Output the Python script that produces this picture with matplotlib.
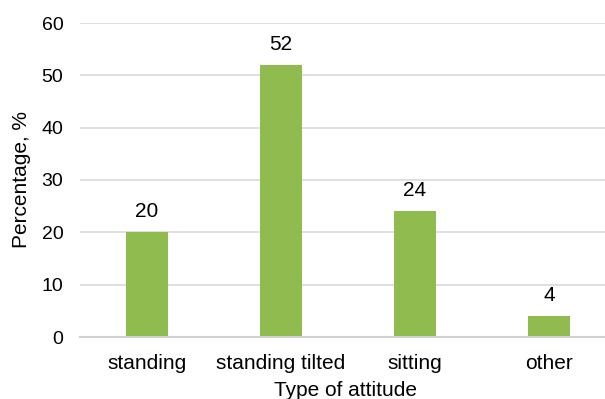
import matplotlib.pyplot as plt

plt.rcParams['font.family'] = ['Liberation Sans', 'DejaVu Sans']

categories = ["standing", "standing tilted", "sitting", "other"]
percentages = [20, 52, 24, 4]

fig = plt.figure(figsize=(6.05, 3.99), dpi=100)
ax = fig.add_axes([80 / 605, 62 / 399, 536 / 605, 314 / 399])

x = range(len(categories))
bars = ax.bar(x, percentages, width=0.31, color="#8fbb4f", zorder=3)

for b, v in zip(bars, percentages):
    ax.text(b.get_x() + b.get_width() / 2, v + 2.9, str(v),
            ha="center", va="baseline", fontsize=15, color="#000000")

ax.set_xlim(-0.5, len(categories) - 0.5)
ax.set_ylim(0, 60)
ax.set_yticks(range(0, 61, 10))
ax.set_xticks(list(x))
ax.set_xticklabels(categories)
ax.yaxis.grid(True, color="#d9d9d9", linewidth=1.2, zorder=0)

for s in ["top", "right", "left"]:
    ax.spines[s].set_visible(False)
ax.spines["bottom"].set_color("#d0d0d0")
ax.spines["bottom"].set_linewidth(1.5)
ax.spines["bottom"].set_zorder(4)

ax.tick_params(axis="both", length=0, labelsize=14, colors="#000000")
ax.tick_params(axis="x", labelsize=15, pad=12)
ax.tick_params(axis="y", pad=12)

fig.text(22 / 605, (399 - 180) / 399, "Percentage, %", rotation=90,
         ha="center", va="center", fontsize=15)
fig.text(345 / 605, 9 / 399, "Type of attitude",
         ha="center", va="center", fontsize=15)

fig.savefig("out.png", dpi=100)
